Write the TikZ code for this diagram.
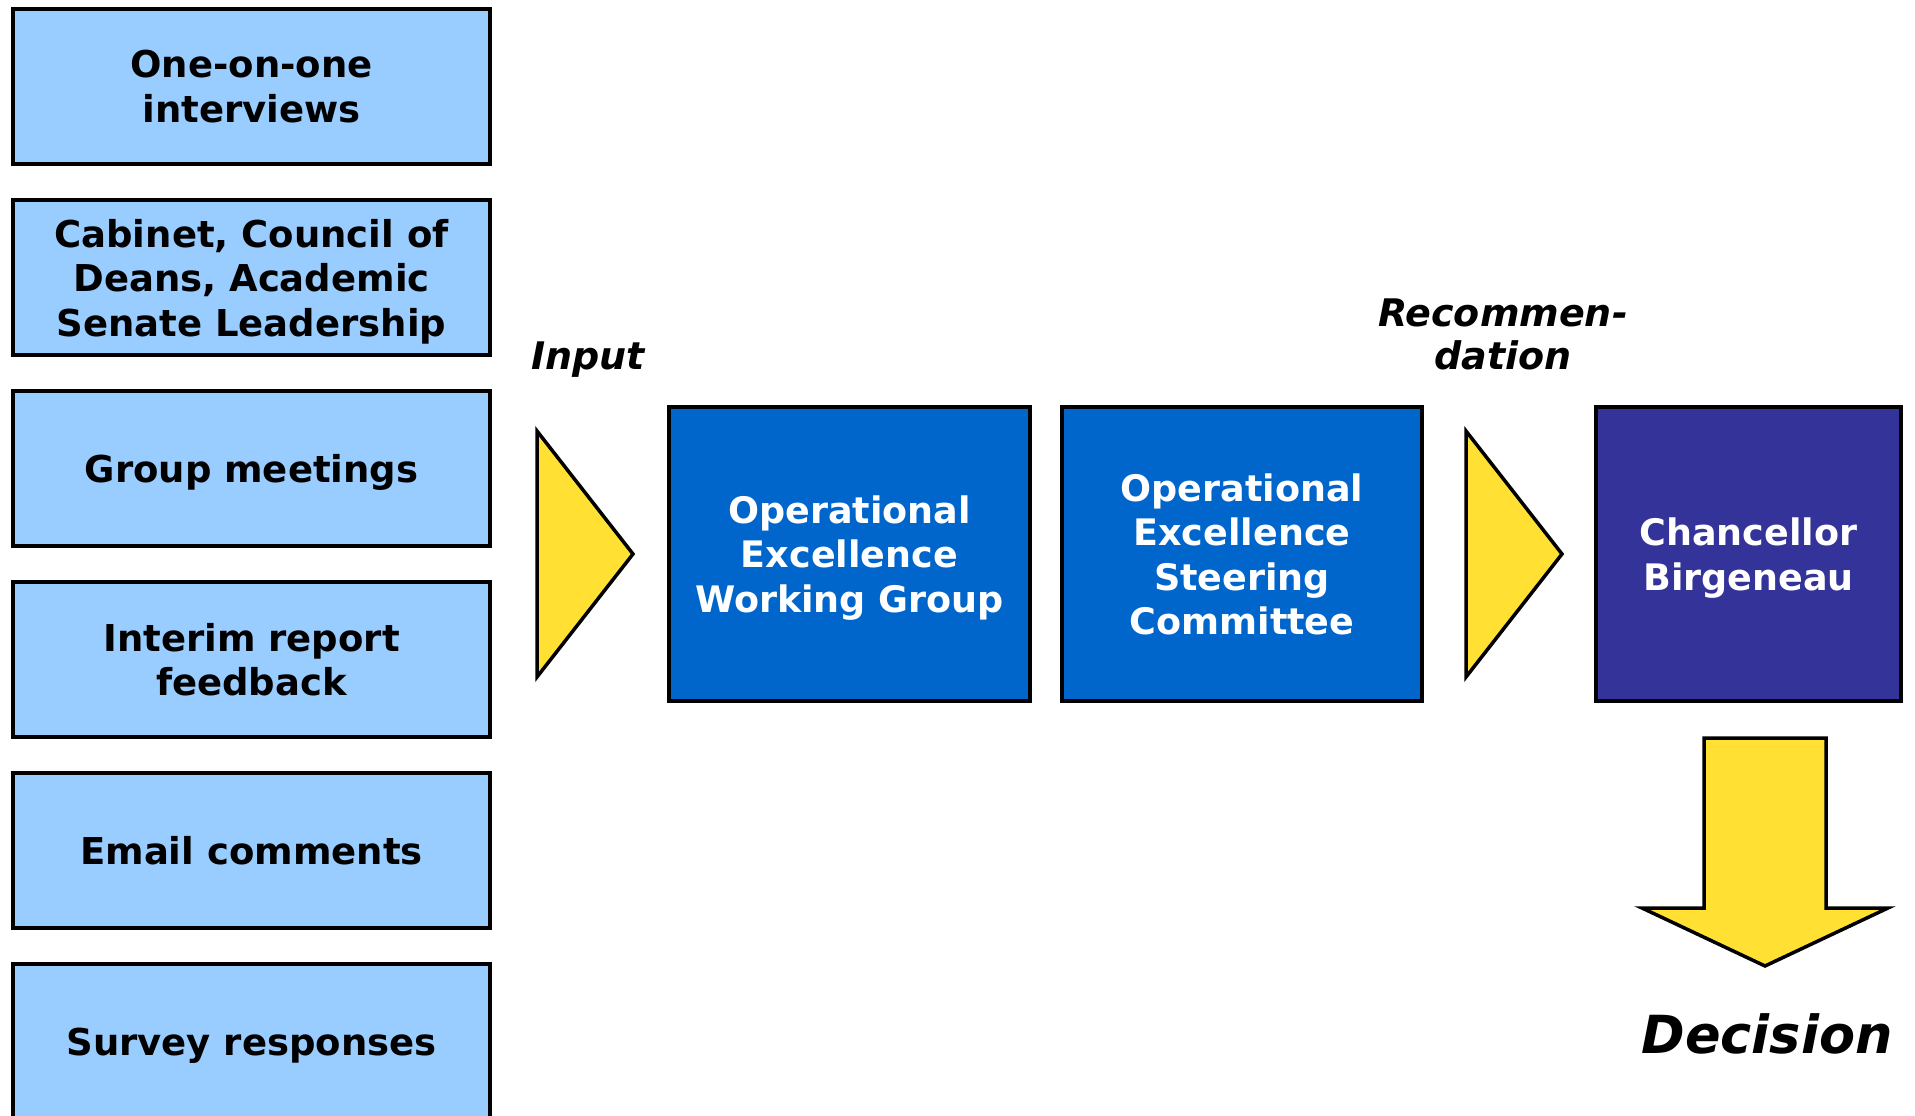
\documentclass[tikz,border=0pt]{standalone}
\usepackage{fontspec}
\setmainfont{DejaVu Sans}
\definecolor{lblue}{HTML}{99CCFF}
\definecolor{mblue}{HTML}{0066CC}
\definecolor{dpurple}{HTML}{333399}
\definecolor{ayellow}{HTML}{FFE033}
\tikzset{
  inbox/.style={draw=black, line width=3.5pt, fill=lblue, minimum width=477pt, minimum height=155pt,
    inner sep=0pt, align=center, text depth=0pt, font=\bfseries\fontsize{37}{44.5}\selectfont, text=black},
  procbox/.style={draw=black, line width=3.5pt, fill=mblue, inner sep=0pt, align=center, text depth=0pt,
    minimum height=294pt, font=\bfseries\fontsize{36.5}{44.5}\selectfont, text=white},
  arrowshape/.style={draw=black, line width=3.5pt, fill=ayellow, line join=miter},
  lbl/.style={inner sep=0pt, align=center, font=\bfseries\itshape\fontsize{38}{43}\selectfont}
}
\begin{document}
\begin{tikzpicture}[x=1pt,y=-1pt]
\useasboundingbox[fill=white] (0,0) rectangle (1915,1116);
% input boxes
\node[inbox] (b1) at (251.5,86.5) {One-on-one\\interviews};
\node[inbox] (b2) at (251.5,277.5) {Cabinet, Council of\\Deans, Academic\\Senate Leadership};
\node[inbox] (b3) at (251.5,468.5) {Group meetings};
\node[inbox] (b4) at (251.5,659.5) {Interim report\\feedback};
\node[inbox] (b5) at (251.5,850.5) {Email comments};
\node[inbox] (b6) at (251.5,1041.5) {Survey responses};
% process boxes
\node[procbox, minimum width=361pt] (wg) at (849.5,554) {Operational\\Excellence\\Working Group};
\node[procbox, minimum width=360pt] (sc) at (1242,554) {Operational\\Excellence\\Steering\\Committee};
\node[procbox, fill=dpurple, minimum width=305pt] (ch) at (1748.5,554) {Chancellor\\Birgeneau};
% arrows
\draw[arrowshape] (537,431) -- (633,554) -- (537,677) -- cycle;
\draw[arrowshape] (1466,431) -- (1562,554) -- (1466,677) -- cycle;
\draw[arrowshape] (1704,738) -- (1826,738) -- (1826,908) -- (1888,908) -- (1765,966) -- (1642,908) -- (1704,908) -- cycle;
% labels
\node[lbl, anchor=base] (inp) at (588,369) {Input};
\node[lbl, anchor=south] (rec) at (1503,370) {Recommen-\\dation};
\node[inner sep=0pt, anchor=base, font=\bfseries\itshape\fontsize{52.5}{60}\selectfont] (dec) at (1767,1053) {Decision};
\end{tikzpicture}
\end{document}
